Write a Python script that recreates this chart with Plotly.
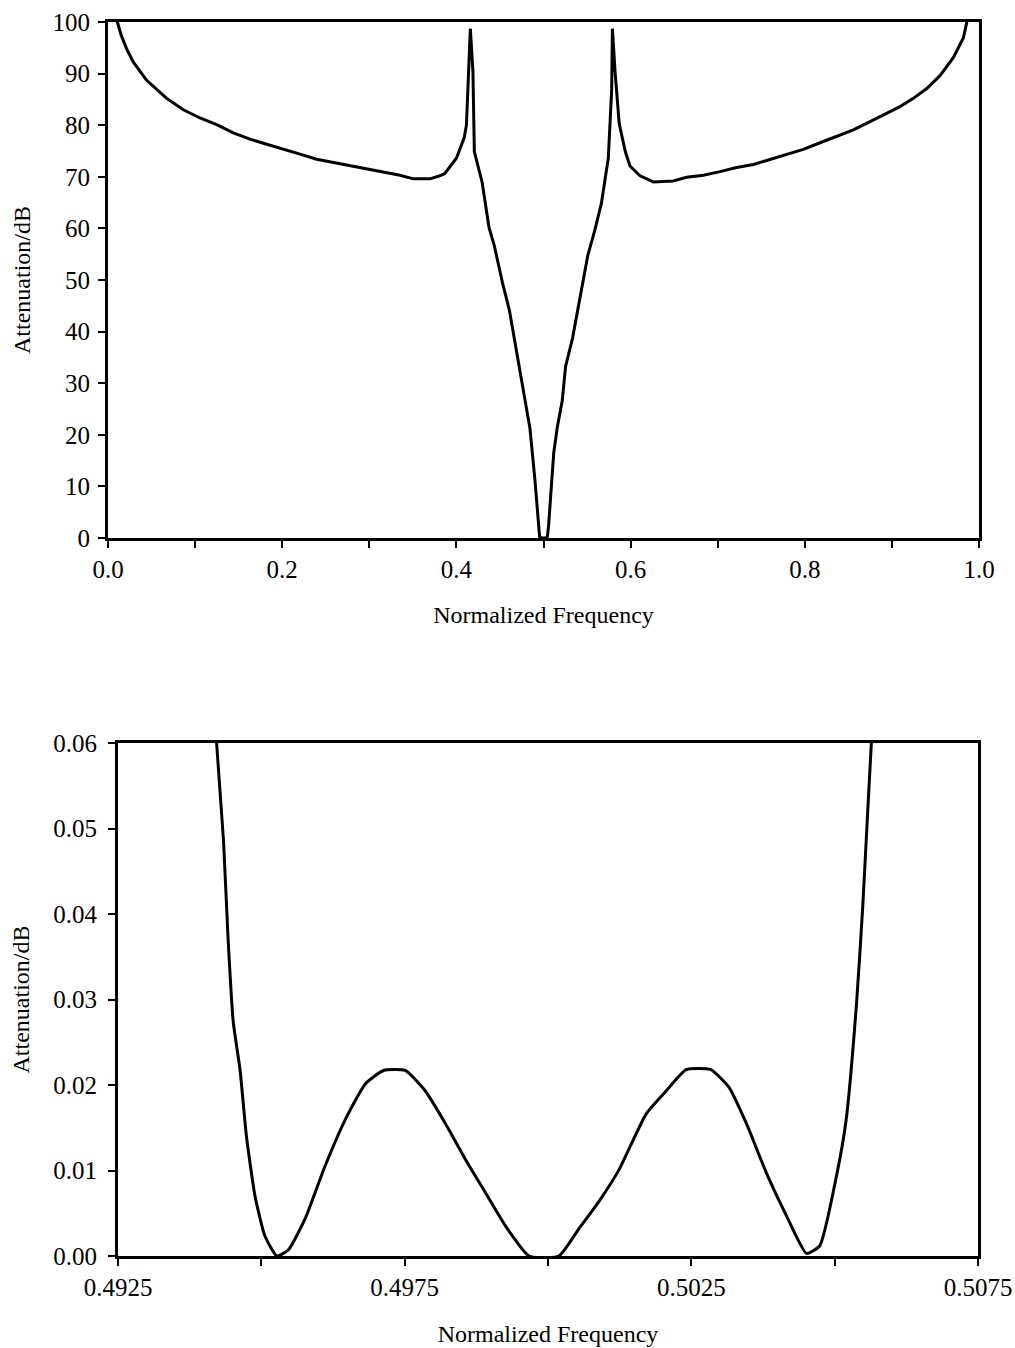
import plotly.graph_objects as go

# ---- Top panel: full band response ----
freq_full = [0.008, 0.0100, 0.0150, 0.0214, 0.0291, 0.0444, 0.0674, 0.0865, 0.1056, 0.1248, 0.1439,
             0.1630, 0.1822, 0.2013, 0.2204, 0.2396, 0.2587, 0.2778, 0.2970, 0.3161, 0.3352,
             0.3506, 0.3697, 0.3792, 0.3865, 0.4000, 0.4090, 0.4115, 0.4135, 0.4160, 0.4190,
             0.4206, 0.4296, 0.4374, 0.4433, 0.4530, 0.4609, 0.4687, 0.4765, 0.4844, 0.4902,
             0.4935, 0.4955, 0.4975, 0.5000, 0.5025, 0.5045, 0.5059, 0.5117, 0.5157, 0.5215,
             0.5254, 0.5333, 0.5391, 0.5450, 0.5509, 0.5587, 0.5665, 0.5744, 0.5783, 0.5791,
             0.5822, 0.5869, 0.5939, 0.5993, 0.6108, 0.6261, 0.6490, 0.6644, 0.6835, 0.7026,
             0.7218, 0.7409, 0.7600, 0.7792, 0.7983, 0.8175, 0.8366, 0.8557, 0.8749, 0.8940,
             0.9093, 0.9246, 0.9400, 0.9552, 0.9705, 0.9820, 0.9878, 0.9900]
atten_full = [102.0, 100.5, 97.5, 94.8, 92.2, 88.7, 85.2, 83.0, 81.4, 80.1, 78.5,
              77.3, 76.3, 75.4, 74.4, 73.4, 72.8, 72.2, 71.5, 70.9, 70.3,
              69.6, 69.6, 70.1, 70.6, 73.6, 77.6, 80.0, 88.0, 98.7, 90.3,
              74.9, 68.9, 60.2, 56.8, 49.4, 44.1, 36.7, 29.3, 21.3, 11.2,
              3.2, 0.3, 0.0, 0.0, 0.0, 0.3, 2.5, 16.4, 21.3, 26.6,
              33.3, 38.7, 44.1, 49.4, 54.8, 59.5, 64.9, 73.6, 87.0, 98.7,
              90.3, 80.3, 74.9, 72.1, 70.2, 69.0, 69.2, 69.9, 70.3, 71.0,
              71.8, 72.4, 73.4, 74.3, 75.3, 76.6, 77.8, 79.1, 80.7, 82.3,
              83.6, 85.2, 87.1, 89.6, 93.1, 96.9, 101.4, 103.0]

# ---- Bottom panel: passband detail ----
freq_pass = [0.49422, 0.49434, 0.49442, 0.49451, 0.49463, 0.49474, 0.49489, 0.49506, 0.49527,
             0.49547, 0.49576, 0.49611, 0.49646, 0.49681, 0.49713, 0.49751, 0.49786, 0.49821,
             0.49856, 0.49891, 0.49926, 0.49967, 0.50019, 0.50054, 0.50089, 0.50124, 0.50171,
             0.50206, 0.50241, 0.50284, 0.50316, 0.50346, 0.50381, 0.50416, 0.50451, 0.50474,
             0.50503, 0.50520, 0.50538, 0.50549, 0.50558, 0.50564]
atten_pass = [0.0600, 0.0486, 0.0371, 0.0274, 0.0217, 0.0140, 0.0070, 0.0024, 0.0000,
              0.0007, 0.0043, 0.0105, 0.0159, 0.0201, 0.0217, 0.0217, 0.0193, 0.0155,
              0.0113, 0.0074, 0.0035, 0.0000, 0.0000, 0.0032, 0.0064, 0.0101, 0.0166,
              0.0193, 0.0218, 0.0218, 0.0197, 0.0155, 0.0097, 0.0047, 0.0003, 0.0012,
              0.0093, 0.0159, 0.0294, 0.0409, 0.0525, 0.0600]

x_title = "Normalized Frequency"
y_title = "Attenuation/dB"

FONT = "Liberation Serif, Times New Roman, serif"
W, H = 1015, 1348


def dx(px):
    return px / W


def dy(py):
    return 1 - py / H


fig = go.Figure()
fig.add_trace(go.Scatter(x=freq_full, y=atten_full, mode="lines",
                         line=dict(color="black", width=3), xaxis="x", yaxis="y",
                         showlegend=False))
fig.add_trace(go.Scatter(x=freq_pass, y=atten_pass, mode="lines",
                         line=dict(color="black", width=3, shape="spline", smoothing=0.5),
                         xaxis="x2", yaxis="y2", showlegend=False))

axis_common = dict(showgrid=False, zeroline=False, showline=True, linecolor="black",
                   linewidth=3, mirror=True, ticks="outside", tickcolor="black",
                   tickwidth=2, ticklen=7, tickfont=dict(family=FONT, size=25, color="black"),
                   automargin=False)
title_font = dict(family=FONT, size=24, color="black")

fig.update_layout(
    width=W, height=H, paper_bgcolor="white", plot_bgcolor="white",
    margin=dict(l=0, r=0, t=0, b=0),
    font=dict(family=FONT, color="black"),
    xaxis=dict(**axis_common, domain=[dx(108), dx(979)], range=[0, 1],
               tick0=0, dtick=0.2, tickformat=".1f", anchor="y",
               minor=dict(dtick=0.1, ticks="outside", ticklen=7, tickwidth=2, tickcolor="black"),
               title=dict(text=x_title, font=title_font, standoff=25)),
    yaxis=dict(**axis_common, domain=[dy(538), dy(22)], range=[0, 100],
               tick0=0, dtick=10, anchor="x", ticklabelstandoff=3,
               title=dict(text=y_title, font=title_font, standoff=16)),
    xaxis2=dict(**axis_common, domain=[dx(118), dx(978)], range=[0.4925, 0.5075],
                tick0=0.4925, dtick=0.005, tickformat=".4f", anchor="y2",
                minor=dict(dtick=0.0025, ticks="outside", ticklen=7, tickwidth=2, tickcolor="black"),
                title=dict(text=x_title, font=title_font, standoff=26)),
    yaxis2=dict(**axis_common, domain=[dy(1256), dy(743)], range=[0, 0.06],
                tick0=0, dtick=0.01, tickformat=".2f", anchor="x2", ticklabelstandoff=6,
                title=dict(text=y_title, font=title_font, standoff=17)),
)

# remove the default page margin so the figure sits at the window origin
fig.write_html("out.html", config={"displayModeBar": False},
               post_script="document.body.style.margin='0';")
